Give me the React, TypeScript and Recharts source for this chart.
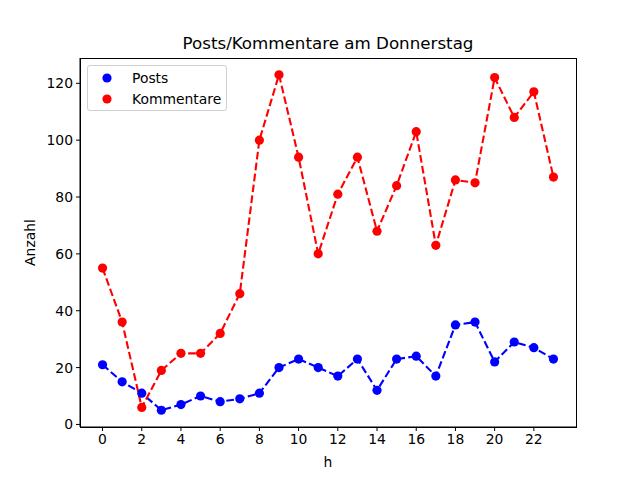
import { Line, LineChart, XAxis, YAxis } from "recharts";

const hours = [0, 1, 2, 3, 4, 5, 6, 7, 8, 9, 10, 11, 12, 13, 14, 15, 16, 17, 18, 19, 20, 21, 22, 23];
const posts = [21, 15, 11, 5, 7, 10, 8, 9, 11, 20, 23, 20, 17, 23, 12, 23, 24, 17, 35, 36, 22, 29, 27, 23];
const kommentare = [55, 36, 6, 19, 25, 25, 32, 46, 100, 123, 94, 60, 81, 94, 68, 84, 103, 63, 86, 85, 122, 108, 117, 87];
const xTicks = [0, 2, 4, 6, 8, 10, 12, 14, 16, 18, 20, 22];
const yTicks = [0, 20, 40, 60, 80, 100, 120];

const data = hours.map((h, i) => ({ h, posts: posts[i], kommentare: kommentare[i] }));

const font = "'DejaVu Sans', sans-serif";
const tick = { fontSize: 13.9, fill: "#000", fontFamily: font };

function LegendBox() {
  const items = [
    { label: "Posts", color: "#0000ff" },
    { label: "Kommentare", color: "#ff0000" },
  ];
  return (
    <div
      style={{
        position: "absolute",
        left: 87,
        top: 65,
        width: 140,
        height: 46,
        border: "1px solid #d0d0d0",
        borderRadius: 3,
        background: "rgba(255,255,255,0.8)",
        boxSizing: "border-box",
        fontFamily: font,
        fontSize: 13.9,
        paddingTop: 1,
      }}
    >
      {items.map((it) => (
        <div key={it.label} style={{ display: "flex", alignItems: "center", height: 21 }}>
          <svg width={44} height={20} style={{ flex: "none" }}>
            <circle cx={19} cy={10} r={4.6} fill={it.color} />
          </svg>
          <span>{it.label}</span>
        </div>
      ))}
    </div>
  );
}

export default function App() {
  return (
    <div style={{ position: "absolute", left: 0, top: 0, width: 640, height: 480, background: "#fff" }}>
      <div
        style={{
          position: "absolute",
          top: 33,
          left: 80,
          width: 496,
          textAlign: "center",
          fontFamily: font,
          fontSize: 16.7,
        }}
      >
        Posts/Kommentare am Donnerstag
      </div>
      <LineChart
        width={640}
        height={480}
        data={data}
        margin={{ top: 58, right: 64, bottom: 20, left: 30 }}
      >
        <XAxis
          dataKey="h"
          type="number"
          domain={[-1.15, 24.15]}
          ticks={xTicks}
          allowDataOverflow
          height={33}
          tick={tick}
          tickSize={4}
          tickMargin={3}
          stroke="#000"
          tickLine={{ stroke: "#000" }}
          label={{ value: "h", position: "insideBottom", offset: -7, fill: "#000", fontSize: 13.9, fontFamily: font }}
        />
        <YAxis
          type="number"
          domain={[-0.9, 128.9]}
          ticks={yTicks}
          allowDataOverflow
          width={50}
          tick={tick}
          tickSize={4}
          tickMargin={3}
          stroke="#000"
          tickLine={{ stroke: "#000" }}
          label={{ value: "Anzahl", angle: -90, position: "insideLeft", offset: 0, fill: "#000", fontSize: 13.9, fontFamily: font, style: { textAnchor: "middle" } }}
        />
        <Line
          dataKey="posts"
          name="Posts"
          stroke="#0000ff"
          strokeWidth={2.1}
          strokeDasharray="7.7 3.3"
          dot={{ r: 4.6, fill: "#0000ff", stroke: "#0000ff", strokeWidth: 0, strokeDasharray: "" }}
          activeDot={false}
          isAnimationActive={false}
        />
        <Line
          dataKey="kommentare"
          name="Kommentare"
          stroke="#ff0000"
          strokeWidth={2.1}
          strokeDasharray="7.7 3.3"
          dot={{ r: 4.6, fill: "#ff0000", stroke: "#ff0000", strokeWidth: 0, strokeDasharray: "" }}
          activeDot={false}
          isAnimationActive={false}
        />
      </LineChart>
      <div
        style={{
          position: "absolute",
          left: 80,
          top: 58,
          width: 497,
          height: 370,
          border: "1px solid #000",
          boxSizing: "border-box",
          pointerEvents: "none",
        }}
      />
      <LegendBox />
    </div>
  );
}
